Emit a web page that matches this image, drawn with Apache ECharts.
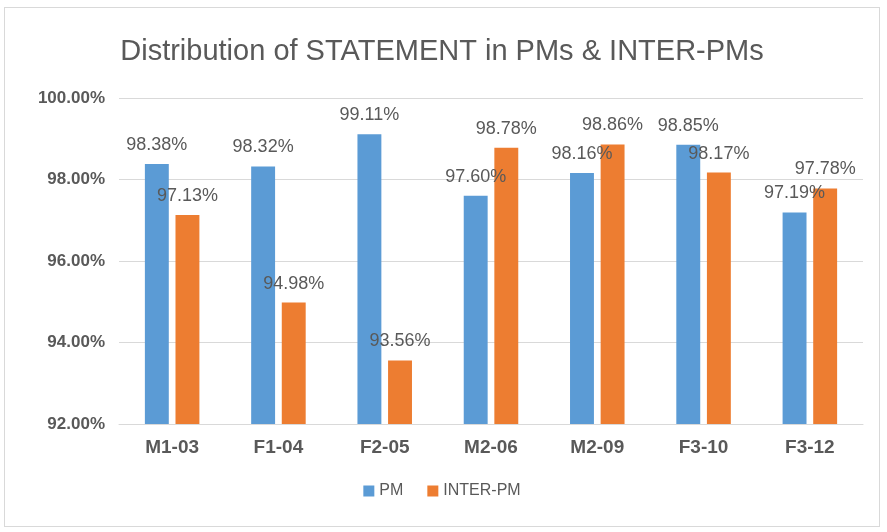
<!DOCTYPE html>
<html>
<head>
<meta charset="utf-8">
<script src="https://cdn.jsdelivr.net/npm/echarts@6/dist/echarts.min.js"></script>
<style>
    html, body {margin: 0; padding: 0; background: #fff;}
    #wrap {position: relative; width: 887px; height: 532px; overflow: hidden;}
    #chart {position: absolute; left: 4px; top: 7px; width: 876px; height: 520px; border: 1px solid #d9d9d9; box-sizing: border-box;}
</style>
</head>
<body>
<div id="wrap"><div id="chart"></div></div>
<script>
    var categories = ['M1-03', 'F1-04', 'F2-05', 'M2-06', 'M2-09', 'F3-10', 'F3-12'];
    var pmValues = [98.38, 98.32, 99.11, 97.60, 98.16, 98.85, 97.19];
    var interValues = [97.13, 94.98, 93.56, 98.78, 98.86, 98.17, 97.78];
    var seriesNames = ['PM', 'INTER-PM'];

    var textColor = '#595959';
    var fontFam = '"Liberation Sans", "DejaVu Sans", sans-serif';

    var myChart = echarts.init(document.getElementById('chart'));

    function pct(v) {
        return v.toFixed(2) + '%';
    }

    var labelOpt = {
        show: true,
        position: 'top',
        distance: 10,
        color: textColor,
        fontSize: 18,
        fontFamily: fontFam,
        formatter: function (p) {
            return pct(p.value);
        }
    };

    var option = {
        animation: false,
        title: {
            text: 'Distribution of STATEMENT in PMs & INTER-PMs',
            left: 'center',
            top: 24,
            textStyle: {color: textColor, fontSize: 29, fontWeight: 'normal', fontFamily: fontFam}
        },
        legend: {
            bottom: 22,
            left: 'center',
            itemWidth: 11,
            itemHeight: 11,
            itemGap: 24,
            icon: 'rect',
            textStyle: {color: textColor, fontSize: 16, fontFamily: fontFam},
            data: seriesNames
        },
        grid: {
            left: 114,
            right: 16,
            top: 90,
            bottom: 102
        },
        xAxis: {
            type: 'category',
            data: categories,
            axisLine: {lineStyle: {color: '#d9d9d9'}},
            axisTick: {show: false},
            axisLabel: {color: textColor, fontSize: 19, fontWeight: 'bold', fontFamily: fontFam, margin: 14}
        },
        yAxis: {
            type: 'value',
            min: 92,
            max: 100,
            interval: 2,
            axisLine: {show: false},
            axisTick: {show: false},
            splitLine: {lineStyle: {color: '#d9d9d9'}},
            axisLabel: {
                color: textColor, fontSize: 17, fontWeight: 'bold', fontFamily: fontFam, margin: 14,
                formatter: function (v) { return v.toFixed(2) + '%'; }
            }
        },
        series: [
            {
                name: seriesNames[0],
                type: 'bar',
                data: pmValues,
                barWidth: '22.5%',
                barGap: '28%',
                itemStyle: {color: '#5b9bd5'},
                label: labelOpt
            },
            {
                name: seriesNames[1],
                type: 'bar',
                data: interValues,
                barWidth: '22.5%',
                itemStyle: {color: '#ed7d31'},
                label: labelOpt
            }
        ]
    };
    myChart.setOption(option);
</script>
</body>
</html>
